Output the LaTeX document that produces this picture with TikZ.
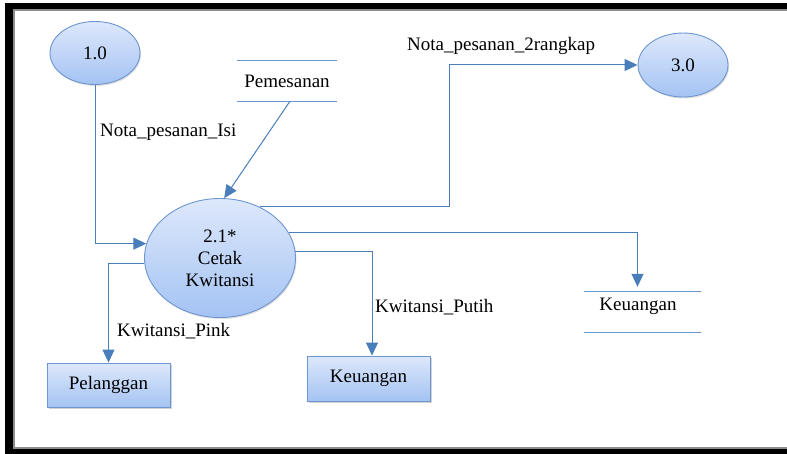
\documentclass[tikz,border=0pt]{standalone}
\usepackage{fontspec}
\setmainfont{Liberation Serif}
\usetikzlibrary{arrows.meta,shapes.geometric,shadows,calc}
\definecolor{flowc}{HTML}{4A7EBB}
\definecolor{edgec}{HTML}{6D96D0}
\definecolor{topc}{HTML}{DDE8FB}
\definecolor{botc}{HTML}{A4C3F3}
\tikzset{
  proc/.style={ellipse, draw=edgec, line width=0.9pt, top color=topc, bottom color=botc,
    inner sep=0pt, align=center, font=\fontsize{19}{22}\selectfont,
    drop shadow={shadow xshift=1pt, shadow yshift=-1.5pt, opacity=0.25}},
  ent/.style={rectangle, draw=edgec, line width=0.9pt, top color=topc, bottom color=botc,
    minimum width=123pt, minimum height=44pt, inner sep=0pt, font=\fontsize{19}{22}\selectfont,
    drop shadow={shadow xshift=2pt, shadow yshift=-2pt, opacity=0.35}},
  store/.style={rectangle, minimum height=40pt, inner sep=0pt, font=\fontsize{19}{22}\selectfont},
  storeline/.style={draw=edgec, line width=1pt},
  flow/.style={draw=flowc, line width=1pt, -{Triangle[length=13pt,width=12pt]}},
  lbl/.style={anchor=west, inner sep=0pt, font=\fontsize{19}{22}\selectfont}
}
\begin{document}
\begin{tikzpicture}[x=1pt,y=-1pt]
% frame
\fill[white] (0,0) rectangle (787,454);
\fill[black] (5,3) rectangle (787,454);
\fill[black!45] (13,9) rectangle (787,449);
\fill[white] (15,11.5) rectangle (787,446.5);
\useasboundingbox (0,0) rectangle (787,454);

% nodes
\node[proc, minimum width=90pt, minimum height=63pt] (one) at (95,53) {1.0};
\node[proc, minimum width=90pt, minimum height=64pt] (three) at (683,65) {3.0};
\node[proc, minimum width=151pt, minimum height=119pt] (two) at (220,258) {2.1*\\Cetak\\Kwitansi};
\node[ent] (pel) at (108.5,385) {Pelanggan};
\node[ent, minimum height=45pt] (keu) at (368.5,378.5) {Keuangan};
\node[store, minimum width=100pt] (pem) at (287,81) {Pemesanan};
\node[store, minimum width=117pt] (ks) at (642.5,312) {};
\node[font=\fontsize{19}{22}\selectfont, inner sep=0pt] (kst) at (638,306) {Keuangan};
\draw[storeline] (pem.north west) -- (pem.north east);
\draw[storeline] (pem.south west) -- (pem.south east);
\draw[storeline] (ks.north west) -- (ks.north east);
\draw[storeline] (ks.south west) -- (ks.south east);

% flows
\draw[flow] (one.south) |- (two.169);
\draw[flow] ([xshift=3pt]pem.south) -- (two.86);
\draw[flow] (two.52) -- ++(189.5,0) |- (three.west);
\draw[flow] (two.20) -| ([xshift=-5pt,yshift=5pt]ks.north);
\draw[flow] (two.5) -| ([xshift=3.5pt]keu.north);
\draw[flow] (two.184) -| (pel.north);

% labels
\node[lbl] (l1) at (100,132) {Nota\_pesanan\_Isi};
\node[lbl] (l2) at (407,46) {Nota\_pesanan\_2rangkap};
\node[lbl] (l3) at (117,331) {Kwitansi\_Pink};
\node[lbl] (l4) at (375,307) {Kwitansi\_Putih};
\end{tikzpicture}
\end{document}
